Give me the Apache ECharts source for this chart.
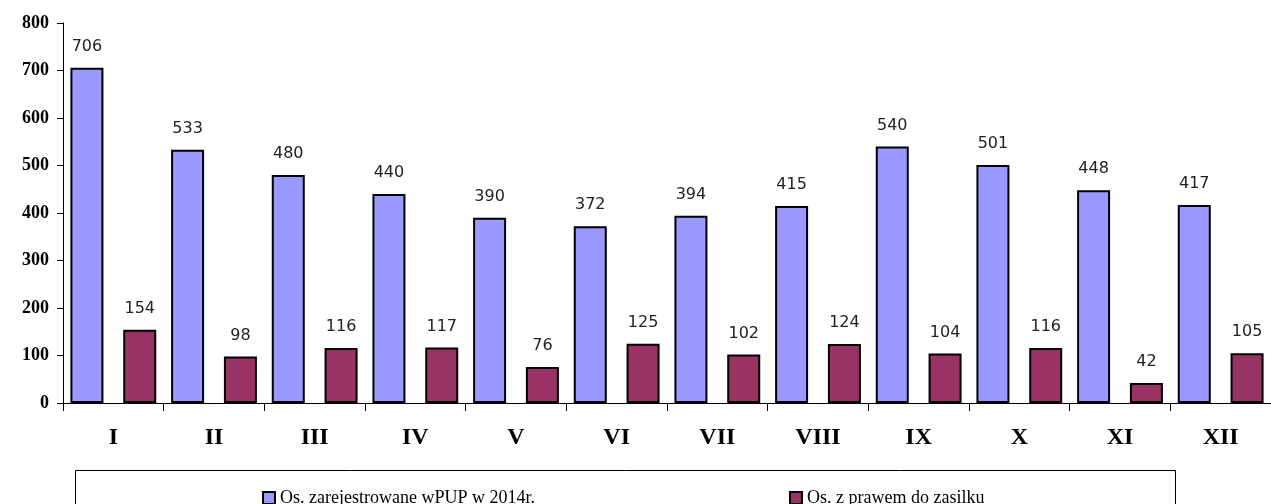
<!DOCTYPE html>
<html>
<head>
<meta charset="utf-8">
<script src="https://cdn.jsdelivr.net/npm/echarts@6/dist/echarts.min.js"></script>
<style>
  html, body { margin: 0; padding: 0; background: #fff; }
  #main { width: 1271px; height: 504px; }
</style>
</head>
<body>
<div id="main"></div>
<script>
var months = ['I', 'II', 'III', 'IV', 'V', 'VI', 'VII', 'VIII', 'IX', 'X', 'XI', 'XII'];
var registered = [706, 533, 480, 440, 390, 372, 394, 415, 540, 501, 448, 417];
var withBenefit = [154, 98, 116, 117, 76, 125, 102, 124, 104, 116, 42, 105];
var seriesNames = ['Os. zarejestrowane wPUP w 2014r.', 'Os. z prawem do zasilku'];

var myChart = echarts.init(document.getElementById('main'));

var labelStyle = {
    show: true,
    position: 'top',
    distance: 13,
    color: '#222',
    fontFamily: 'DejaVu Sans',
    fontSize: 16
};

option = {
    backgroundColor: '#fff',
    animation: false,
    grid: {
        left: 63,
        top: 23,
        width: 1212,
        height: 380
    },
    legend: {
        top: 484,
        left: 257,
        itemGap: 254,
        itemWidth: 12,
        itemHeight: 12,
        icon: 'rect',
        textStyle: {
            fontFamily: 'Liberation Serif',
            fontSize: 18,
            color: '#000'
        },
        data: seriesNames
    },
    graphic: [{
        type: 'rect',
        shape: { x: 75.5, y: 470.5, width: 1100, height: 60 },
        style: { fill: 'none', stroke: '#000', lineWidth: 1 },
        z: -1
    }],
    xAxis: {
        type: 'category',
        data: months,
        axisLine: { lineStyle: { color: '#000', width: 1 } },
        axisTick: { show: true, length: 8, inside: false, lineStyle: { color: '#000' } },
        axisLabel: {
            margin: 23,
            color: '#000',
            fontFamily: 'Liberation Serif',
            fontWeight: 'bold',
            fontSize: 24
        }
    },
    yAxis: {
        type: 'value',
        min: 0,
        max: 800,
        interval: 100,
        splitLine: { show: false },
        axisLine: { show: true, lineStyle: { color: '#000', width: 1 } },
        axisTick: { show: true, length: 6, lineStyle: { color: '#000' } },
        axisLabel: {
            margin: 14,
            color: '#000',
            fontFamily: 'Liberation Serif',
            fontWeight: 'bold',
            fontSize: 18
        }
    },
    series: [{
        name: seriesNames[0],
        type: 'bar',
        data: registered,
        barWidth: 33,
        barGap: '60%',
        itemStyle: {
            color: '#9999FF',
            borderColor: '#000',
            borderWidth: 2
        },
        label: labelStyle
    }, {
        name: seriesNames[1],
        type: 'bar',
        data: withBenefit,
        barWidth: 33,
        itemStyle: {
            color: '#993366',
            borderColor: '#000',
            borderWidth: 2
        },
        label: labelStyle
    }]
};

myChart.setOption(option);
</script>
</body>
</html>
